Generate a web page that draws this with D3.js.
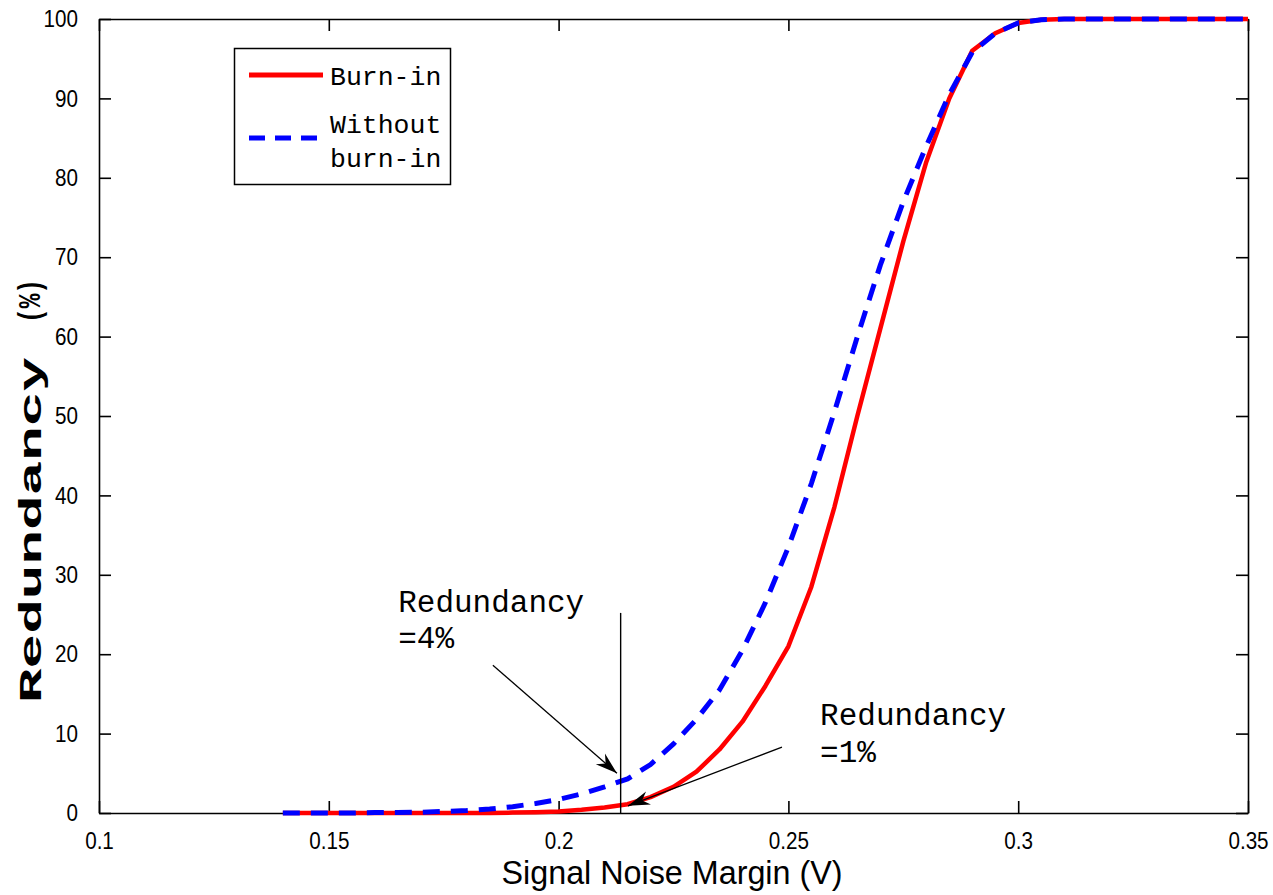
<!DOCTYPE html>
<html lang="en">
<head>
<meta charset="UTF-8">
<title>Redundancy vs Signal Noise Margin</title>
<script src="https://d3js.org/d3.v7.min.js"></script>
<style>
  body { margin: 0; background: #fff; }
  .tick text { font-family: "Liberation Sans", Arial, sans-serif; font-size: 24px; fill: #000; }
  .mono { font-family: "Liberation Mono", "DejaVu Sans Mono", monospace; fill: #000; }
</style>
</head>
<body>
<div id="chart-container"></div>
<script>
// Signal noise margin (V) sample points
const snm = [0.14, 0.145, 0.15, 0.155, 0.16, 0.165, 0.17, 0.175, 0.18, 0.185, 0.19, 0.195,
             0.2, 0.205, 0.21, 0.215, 0.22, 0.225, 0.23, 0.235, 0.24, 0.245, 0.25, 0.255,
             0.26, 0.265, 0.27, 0.275, 0.28, 0.285, 0.29, 0.295, 0.3, 0.305, 0.31, 0.32,
             0.33, 0.34, 0.35];
// Redundancy (%) with burn-in
const burnIn = [0, 0, 0, 0, 0, 0, 0, 0, 0, 0, 0.05, 0.1,
                0.2, 0.4, 0.7, 1.1, 2.0, 3.3, 5.2, 8.0, 11.5, 16, 21, 28.5,
                38.5, 50, 61, 72, 82, 90, 96, 98.2, 99.5, 99.9, 100, 100,
                100, 100, 100];
// Redundancy (%) without burn-in
const withoutBurnIn = [0, 0, 0, 0, 0.05, 0.07, 0.1, 0.2, 0.3, 0.5, 0.8, 1.2,
                       1.7, 2.4, 3.3, 4.3, 6.1, 8.7, 11.8, 15.5, 20.5, 26.5, 33.5, 41.5,
                       50.5, 60, 69, 77, 84, 90.5, 95.8, 98.2, 99.5, 99.9, 100, 100,
                       100, 100, 100];

const xTicks = [0.1, 0.15, 0.2, 0.25, 0.3, 0.35];
const yTicks = [0, 10, 20, 30, 40, 50, 60, 70, 80, 90, 100];

const width = 1273, height = 895;
const margin = { top: 19, right: 25, bottom: 82, left: 99 };

const svg = d3.select('#chart-container')
  .append('svg')
  .attr('width', width)
  .attr('height', height);

const xScale = d3.scaleLinear().domain([0.1, 0.35]).range([margin.left, width - margin.right]);
const yScale = d3.scaleLinear().domain([0, 100]).range([height - margin.bottom, margin.top]);

// arrowhead marker
svg.append('defs').append('marker')
  .attr('id', 'arrow')
  .attr('viewBox', '-22 -8 24 16')
  .attr('refX', 0).attr('refY', 0)
  .attr('markerWidth', 24).attr('markerHeight', 16)
  .attr('markerUnits', 'userSpaceOnUse')
  .attr('orient', 'auto')
  .append('path')
  .attr('d', 'M0,0 L-22,-7 L-15,0 L-22,7 Z')
  .attr('fill', '#000');

// axes, ticks pointing inward on all four sides
const tickLen = 12;
svg.append('g')
  .attr('transform', `translate(0,${yScale(0)})`)
  .call(d3.axisBottom(xScale).tickValues(xTicks).tickSizeInner(-tickLen).tickSizeOuter(0).tickPadding(19)
    .tickFormat(d => String(d)));
svg.append('g')
  .attr('transform', `translate(0,${yScale(100)})`)
  .call(d3.axisTop(xScale).tickValues(xTicks).tickSizeInner(-tickLen).tickSizeOuter(0).tickFormat(''));
svg.append('g')
  .attr('transform', `translate(${xScale(0.1)},0)`)
  .call(d3.axisLeft(yScale).tickValues(yTicks).tickSizeInner(-tickLen).tickSizeOuter(0).tickPadding(21));
svg.append('g')
  .attr('transform', `translate(${xScale(0.35)},0)`)
  .call(d3.axisRight(yScale).tickValues(yTicks).tickSizeInner(-tickLen).tickSizeOuter(0).tickFormat(''));

svg.selectAll('.domain, .tick line').attr('stroke', '#000').attr('stroke-width', 1.6);

// the reference glyphs are tall and narrow: squeeze them horizontally
svg.selectAll('.tick text').each(function () {
  const w = this.getComputedTextLength();
  if (w > 0) d3.select(this).attr('textLength', w * 0.86).attr('lengthAdjust', 'spacingAndGlyphs');
});

// curves
const line = d3.line()
  .x((d, i) => xScale(snm[i]))
  .y(d => yScale(d));

svg.append('path')
  .datum(burnIn)
  .attr('fill', 'none')
  .attr('stroke', '#ff0000')
  .attr('stroke-width', 4.5)
  .attr('stroke-linejoin', 'round')
  .attr('d', line);

svg.append('path')
  .datum(withoutBurnIn)
  .attr('fill', 'none')
  .attr('stroke', '#0000ff')
  .attr('stroke-width', 5)
  .attr('stroke-dasharray', '17,11')
  .attr('d', line);

// annotations
const markX = 0.2135;
svg.append('line')
  .attr('x1', xScale(markX)).attr('x2', xScale(markX))
  .attr('y1', yScale(0)).attr('y2', yScale(25.2))
  .attr('stroke', '#000').attr('stroke-width', 1.4);

svg.append('line')
  .attr('x1', xScale(0.1857)).attr('y1', yScale(18.6))
  .attr('x2', xScale(0.2127)).attr('y2', yScale(5.0))
  .attr('stroke', '#000').attr('stroke-width', 1.3)
  .attr('marker-end', 'url(#arrow)');

svg.append('line')
  .attr('x1', xScale(0.2486)).attr('y1', yScale(8.3))
  .attr('x2', xScale(0.2151)).attr('y2', yScale(0.9))
  .attr('stroke', '#000').attr('stroke-width', 1.3)
  .attr('marker-end', 'url(#arrow)');

const note = (x, y, txt) => svg.append('text')
  .attr('class', 'mono')
  .attr('x', xScale(x)).attr('y', yScale(y))
  .attr('font-size', 31)
  .text(txt);
note(0.1651, 25.3, 'Redundancy');
note(0.1651, 20.8, '=4%');
note(0.2569, 11.1, 'Redundancy');
note(0.2569, 6.4, '=1%');

// axis titles
svg.append('text')
  .attr('x', 672).attr('y', 884)
  .attr('text-anchor', 'middle')
  .attr('font-family', '"Liberation Sans", Arial, sans-serif')
  .attr('font-size', 34)
  .attr('textLength', 341)
  .attr('lengthAdjust', 'spacingAndGlyphs')
  .text('Signal Noise Margin (V)');

const yTitle = svg.append('g').attr('transform', 'translate(41,0) rotate(-90)');
yTitle.append('text')
  .attr('class', 'mono')
  .attr('x', -703).attr('y', 0)
  .attr('font-size', 31)
  .attr('font-weight', 'bold')
  .attr('textLength', 346)
  .attr('lengthAdjust', 'spacingAndGlyphs')
  .text('Redundancy');
yTitle.append('text')
  .attr('class', 'mono')
  .attr('x', -323).attr('y', -1)
  .attr('font-size', 31)
  .attr('font-weight', 'bold')
  .attr('textLength', 44)
  .attr('lengthAdjust', 'spacingAndGlyphs')
  .text('(%)');

// legend
const legend = svg.append('g');
legend.append('rect')
  .attr('x', 234.5).attr('y', 48.5).attr('width', 216).attr('height', 136)
  .attr('fill', '#fff').attr('stroke', '#000').attr('stroke-width', 1.5);
legend.append('line')
  .attr('x1', 249).attr('x2', 323).attr('y1', 75).attr('y2', 75)
  .attr('stroke', '#ff0000').attr('stroke-width', 5);
legend.append('line')
  .attr('x1', 249).attr('x2', 323).attr('y1', 138).attr('y2', 138)
  .attr('stroke', '#0000ff').attr('stroke-width', 5)
  .attr('stroke-dasharray', '16,10');
const legText = (y, txt) => legend.append('text')
  .attr('class', 'mono')
  .attr('x', 330).attr('y', y)
  .attr('font-size', 26.5)
  .text(txt);
legText(85, 'Burn-in');
legText(133, 'Without');
legText(167, 'burn-in');
</script>
</body>
</html>
